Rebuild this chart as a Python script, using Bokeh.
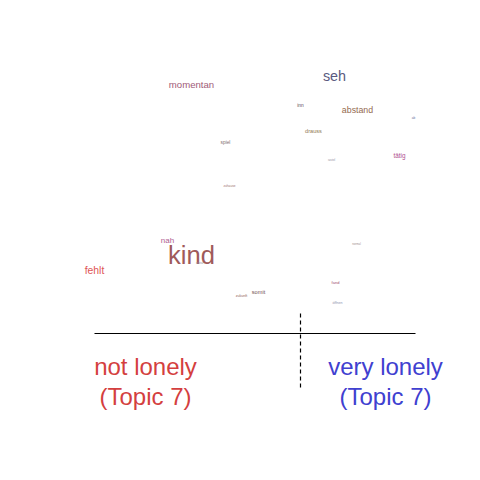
from bokeh.plotting import figure
from bokeh.models import Range1d, ColumnDataSource
from bokeh.core.properties import value
from bokeh.embed import file_html
from bokeh.resources import INLINE

# word cloud data: x position (score), y position, relative frequency
words = ["momentan", "seh", "inn", "abstand", "ab", "drauss", "spiel", "soviel",
         "tätig", "zuhause", "nah", "kind", "sozial", "fehlt", "normal", "fand",
         "somit", "zukunft", "öffnen"]
word_x = [191, 334, 300, 357, 413, 313, 225, 331, 399, 229, 167, 191, 199, 94, 356, 335, 258, 241, 337]
word_y = [84, 75, 105, 109, 117, 130, 142, 159, 155, 185, 240, 254, 262, 270, 243, 282, 291, 295, 302]
word_freq = [12, 18, 6, 11, 4, 7, 6, 3.5, 8, 4, 10, 32, 3.5, 13, 3.5, 5, 7, 4.5, 4.5]
word_colors = ["#a05a78", "#5a5a80", "#554455", "#946a50", "#7070a0", "#907a50", "#807070", "#9090a0",
               "#b05090", "#a07070", "#b06090", "#a05a5a", "#9090a0", "#e05555", "#a09090", "#a05070",
               "#705050", "#906060", "#9090b0"]

labels = ["not lonely\n(Topic 7)", "very lonely\n(Topic 7)"]
label_x = [145, 385]
label_colors = ["#d43f3f", "#4040d0"]

p = figure(width=480, height=480, output_backend="svg", toolbar_location=None,
           x_range=Range1d(0, 480), y_range=Range1d(480, 0),
           min_border=0, outline_line_color=None)
p.axis.visible = False
p.grid.visible = False

src = ColumnDataSource(dict(x=word_x, y=word_y, text=words,
                            size=[f"{f * 0.8:.1f}px" for f in word_freq],
                            color=word_colors))
p.text(x="x", y="y", text="text", text_font_size="size", text_color="color",
       text_align="center", text_baseline="middle",
       text_font=value("Liberation Sans"), source=src)

p.segment(x0=[94], y0=[333], x1=[415], y1=[333], line_color="black", line_width=1.2)
p.segment(x0=[300], y0=[313], x1=[300], y1=[390], line_color="black", line_width=1.2,
          line_dash="4 3")

p.text(x=label_x, y=[381, 381], text=labels, text_color=label_colors,
       text_font_size="24px", text_align="center", text_baseline="middle",
       text_line_height=1.08, text_font=value("Liberation Sans"))

open("out.html", "w").write(file_html(p, INLINE))
